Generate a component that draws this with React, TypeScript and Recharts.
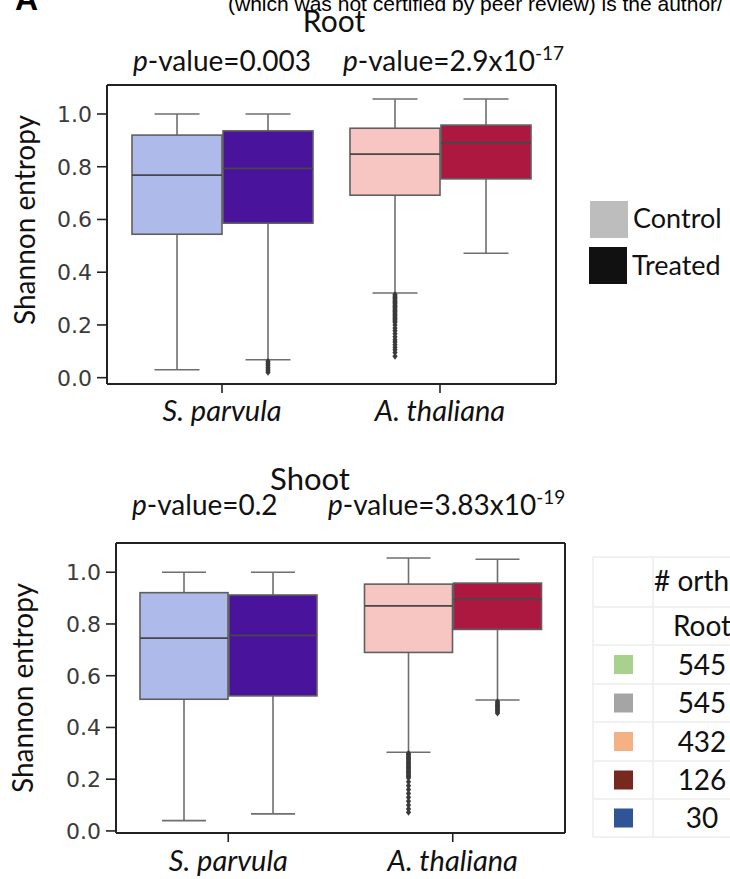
import React from 'react';
import { BarChart, Bar, XAxis, YAxis } from 'recharts';

const species = ['S. parvula', 'A. thaliana'];

// box stats: [whisker low, q1, median, q3, whisker high]
const rootControl = [
  [0.03, 0.544, 0.768, 0.92, 1.0],
  [0.321, 0.692, 0.848, 0.946, 1.057],
];
const rootTreated = [
  [0.068, 0.586, 0.794, 0.936, 1.0],
  [0.472, 0.754, 0.891, 0.958, 1.057],
];
const rootControlOutliers = [
  [],
  [0.315, 0.31, 0.305, 0.3, 0.295, 0.29, 0.285, 0.28, 0.275, 0.27, 0.265, 0.26, 0.255, 0.25, 0.245, 0.24,
    0.235, 0.23, 0.225, 0.22, 0.215, 0.21, 0.2, 0.188, 0.178, 0.167, 0.155, 0.144, 0.135, 0.125, 0.115,
    0.106, 0.095, 0.081],
];
const rootTreatedOutliers = [[0.062, 0.055, 0.048, 0.04, 0.033, 0.026, 0.02], []];

const shootControl = [
  [0.04, 0.509, 0.745, 0.921, 1.0],
  [0.304, 0.69, 0.87, 0.954, 1.055],
];
const shootTreated = [
  [0.066, 0.522, 0.756, 0.912, 1.0],
  [0.506, 0.779, 0.896, 0.958, 1.05],
];
const shootControlOutliers = [
  [],
  [0.3, 0.295, 0.29, 0.285, 0.28, 0.275, 0.27, 0.265, 0.26, 0.255, 0.25, 0.245, 0.24, 0.235, 0.23, 0.225,
    0.22, 0.215, 0.21, 0.205, 0.19, 0.175, 0.16, 0.145, 0.13, 0.115, 0.1, 0.085, 0.072],
];
const shootTreatedOutliers = [[], [0.5, 0.495, 0.49, 0.485, 0.48, 0.475, 0.47, 0.465, 0.46, 0.455]];

const controlColors = ['#aebaea', '#f7c6c3'];
const treatedColors = ['#4a139c', '#ad1840'];

const yTicks = [0, 0.2, 0.4, 0.6, 0.8, 1.0];

const orthologColors = ['#a9d18e', '#a5a5a5', '#f4b183', '#78291f', '#2f5597'];
const rootOrthologCounts = [545, 545, 432, 126, 30];

const LABEL_FONT = 'Lato, "Open Sans", sans-serif';

function buildRows(control: number[][], treated: number[][], cOut: number[][], tOut: number[][]) {
  return species.map((name, i) => ({
    name,
    control: { stats: control[i], outliers: cOut[i], color: controlColors[i] },
    treated: { stats: treated[i], outliers: tOut[i], color: treatedColors[i] },
  }));
}

const rootRows = buildRows(rootControl, rootTreated, rootControlOutliers, rootTreatedOutliers);
const shootRows = buildRows(shootControl, shootTreated, shootControlOutliers, shootTreatedOutliers);

type Series = 'control' | 'treated';

const rangeKey = (series: Series) => (d: any) => {
  const box = d[series];
  return [Math.min(box.stats[0], ...box.outliers), box.stats[4]];
};

const boxShape = (series: Series) => (props: any) => {
  const { x, y, width, height, payload } = props;
  const box = payload[series];
  const [lo, q1, med, q3, hi] = box.stats;
  const bottom = Math.min(lo, ...box.outliers);
  // y is the scaled whisker top, y + height the scaled lowest point
  const toY = (v: number) => y + ((hi - v) / (hi - bottom)) * height;
  const cx = x + width / 2;
  const cap = width / 4;
  const whisker = { stroke: '#6e6e6e', strokeWidth: 1.6 };
  return (
    <g>
      <line x1={cx} x2={cx} y1={toY(hi)} y2={toY(q3)} {...whisker} />
      <line x1={cx} x2={cx} y1={toY(q1)} y2={toY(lo)} {...whisker} />
      <line x1={cx - cap} x2={cx + cap} y1={toY(hi)} y2={toY(hi)} {...whisker} />
      <line x1={cx - cap} x2={cx + cap} y1={toY(lo)} y2={toY(lo)} {...whisker} />
      <rect x={x} y={toY(q3)} width={width} height={toY(q1) - toY(q3)} fill={box.color}
        stroke="#5f5f5f" strokeWidth={1.6} />
      <line x1={x} x2={x + width} y1={toY(med)} y2={toY(med)} stroke="#474747" strokeWidth={1.8} />
      {box.outliers.map((v: number, i: number) => {
        const oy = toY(v);
        return (
          <path key={i} d={`M${cx},${oy - 3.4}L${cx + 2.6},${oy}L${cx},${oy + 3.4}L${cx - 2.6},${oy}Z`}
            fill="#3a3a3a" />
        );
      })}
    </g>
  );
};

const YTick = (props: any) => {
  const { x, y, payload } = props;
  return (
    <text x={x} y={y} dy="0.36em" textAnchor="end" fontFamily="DejaVu Sans" fontSize={22} fill="#3b3b3b">
      {payload.value.toFixed(1)}
    </text>
  );
};

const makeXTick = (dy: number) => (props: any) => {
  const { x, y, payload } = props;
  return (
    <text x={x} y={y + dy} textAnchor="middle" fontFamily={LABEL_FONT} fontStyle="italic" fontSize={29}
      fill="#111">
      {payload.value}
    </text>
  );
};

interface BoxChartProps {
  rows: any[];
  width: number;
  height: number;
  margin: { top: number; right: number; bottom: number; left: number };
  xAxisHeight: number;
  xPadding: { left: number; right: number };
  yDomain: [number, number];
  barSize: number;
  labelDy: number;
}

function BoxChart({ rows, width, height, margin, xAxisHeight, xPadding, yDomain, barSize, labelDy }: BoxChartProps) {
  const frame = { stroke: '#222', strokeWidth: 2 };
  return (
    <BarChart width={width} height={height} data={rows} margin={margin} barGap={1} barSize={barSize}>
      <XAxis dataKey="name" type="category" height={xAxisHeight} padding={xPadding} axisLine={frame}
        tickLine={{ stroke: '#222', strokeWidth: 1.6 }} tickSize={9} tickMargin={2} tick={makeXTick(labelDy)}
        interval={0} />
      {/* top and right edges of the frame */}
      <XAxis xAxisId="frame" dataKey="name" orientation="top" height={1} axisLine={frame} tick={false}
        tickLine={false} />
      <YAxis type="number" domain={yDomain} allowDataOverflow ticks={yTicks} width={60} axisLine={frame}
        tickLine={{ stroke: '#222', strokeWidth: 1.6 }} tickSize={10} tickMargin={5} tick={YTick} />
      <YAxis yAxisId="frame" orientation="right" type="number" domain={[0, 1]} allowDataOverflow width={1}
        axisLine={frame} tick={false} tickLine={false} />
      <Bar dataKey={rangeKey('control')} shape={boxShape('control')} isAnimationActive={false} />
      <Bar dataKey={rangeKey('treated')} shape={boxShape('treated')} isAnimationActive={false} />
    </BarChart>
  );
}

function PValue({ x, y, value, exp }: { x: number; y: number; value: string; exp?: string }) {
  return (
    <text x={x} y={y} fontFamily={LABEL_FONT} fontSize={28} fill="#111">
      <tspan fontStyle="italic">p</tspan>
      <tspan>-value={value}</tspan>
      {exp && (
        <tspan dy={-11} fontSize={19}>
          {exp}
        </tspan>
      )}
    </text>
  );
}

const tableRowLines = [557, 607, 645, 684, 722, 761, 799, 837];

export default function App() {
  return (
    <div style={{ position: 'absolute', left: 0, top: 0, width: 730, height: 879, overflow: 'hidden', background: '#fff' }}>
      <div style={{ position: 'absolute', left: 0, top: 0 }}>
        <BoxChart rows={rootRows} width={600} height={440}
          margin={{ top: 84, right: 43, bottom: 0, left: 47 }} xAxisHeight={56}
          xPadding={{ left: 6, right: 7 }} yDomain={[-0.024, 1.11]} barSize={90} labelDy={26} />
      </div>
      <div style={{ position: 'absolute', left: 0, top: 460 }}>
        <BoxChart rows={shootRows} width={600} height={419}
          margin={{ top: 82, right: 34, bottom: 0, left: 56 }} xAxisHeight={46}
          xPadding={{ left: 0, right: 0 }} yDomain={[-0.008, 1.113]} barSize={88} labelDy={27} />
      </div>
      <svg width={730} height={879} style={{ position: 'absolute', left: 0, top: 0, pointerEvents: 'none' }}>
        <text x={15} y={10} fontFamily="Liberation Sans, Arial, sans-serif" fontWeight="bold" fontSize={32} fill="#000">A</text>
        <text x={228} y={11} fontFamily="Liberation Sans, Arial, sans-serif" fontSize={21} fill="#000">
          (which was not certified by peer review) is the author/
        </text>

        <text x={334} y={32} textAnchor="middle" fontFamily={LABEL_FONT} fontSize={30} fill="#111">Root</text>
        <PValue x={133} y={71} value="0.003" />
        <PValue x={343} y={71} value="2.9x10" exp="-17" />
        <text transform="translate(24,220) rotate(-90)" textAnchor="middle" dominantBaseline="central"
          fontFamily={LABEL_FONT} fontSize={28} fill="#111">Shannon entropy</text>

        <text x={310} y={490} textAnchor="middle" fontFamily={LABEL_FONT} fontSize={31} fill="#111">Shoot</text>
        <PValue x={132} y={515} value="0.2" />
        <PValue x={328} y={515} value="3.83x10" exp="-19" />
        <text transform="translate(22,688) rotate(-90)" textAnchor="middle" dominantBaseline="central"
          fontFamily={LABEL_FONT} fontSize={28} fill="#111">Shannon entropy</text>

        {/* legend */}
        <rect x={590} y={201} width={38} height={37} fill="#bdbdbd" />
        <text x={633} y={228} fontFamily={LABEL_FONT} fontSize={27} fill="#111">Control</text>
        <rect x={589} y={247} width={38} height={37} fill="#111" />
        <text x={632} y={275} fontFamily={LABEL_FONT} fontSize={27} fill="#111">Treated</text>

        {/* ortholog table */}
        {tableRowLines.map((ly) => (
          <line key={ly} x1={593} x2={730} y1={ly} y2={ly} stroke="#ececec" strokeWidth={1.5} />
        ))}
        <line x1={593} x2={593} y1={557} y2={837} stroke="#ececec" strokeWidth={1.5} />
        <line x1={653} x2={653} y1={557} y2={837} stroke="#ececec" strokeWidth={1.5} />
        <text x={654} y={591} fontFamily={LABEL_FONT} fontSize={28} fill="#111"># orthologs</text>
        <text x={702} y={636} textAnchor="middle" fontFamily={LABEL_FONT} fontSize={28} fill="#111">Root</text>
        {rootOrthologCounts.map((count, i) => {
          const top = tableRowLines[i + 2];
          const bottom = tableRowLines[i + 3];
          const mid = (top + bottom) / 2;
          return (
            <g key={i}>
              <rect x={614} y={mid - 9.5} width={19} height={19} fill={orthologColors[i]} />
              <text x={702} y={mid + 10} textAnchor="middle" fontFamily={LABEL_FONT} fontSize={28} fill="#111">
                {count}
              </text>
            </g>
          );
        })}
      </svg>
    </div>
  );
}
